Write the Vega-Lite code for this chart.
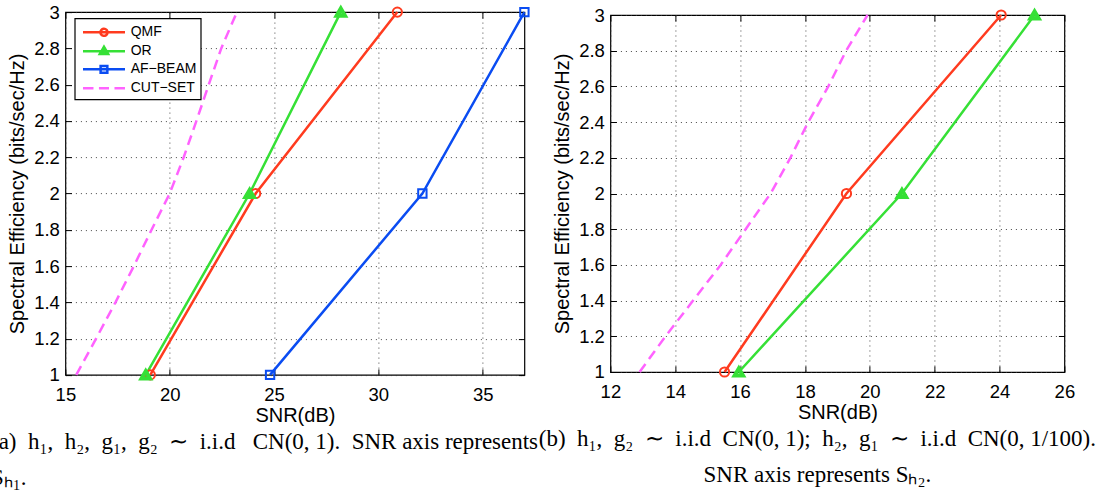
{
  "$schema": "https://vega.github.io/schema/vega-lite/v6.json",
  "background": "white",
  "padding": {"left": -9.6, "top": -1, "right": 0, "bottom": 0},
  "spacing": 86,
  "bounds": "flush",
  "center": true,
  "config": {
    "view": {"stroke": "black", "strokeWidth": 1.2},
    "font": "Liberation Sans",
    "axis": {
      "labelFont": "Liberation Sans", "labelFontSize": 18.5, "labelColor": "black", "labelFlush": false,
      "titleFont": "Liberation Sans", "titleFontSize": 20, "titleFontWeight": "normal", "titleColor": "black",
      "domain": false, "tickColor": "black", "tickSize": -6, "tickWidth": 1,
      "gridColor": "#333333", "gridDash": [1, 4], "gridWidth": 1, "gridOpacity": 0.9
    },
    "legend": {
      "strokeColor": "black", "fillColor": "white", "labelColor": "black", "labelFont": "Liberation Sans",
      "symbolSize": 282, "symbolStrokeWidth": 2.5, "title": null
    },
    "title": {"font": "Liberation Serif", "fontSize": 23, "fontWeight": "normal", "color": "black", "orient": "bottom", "lineHeight": 36}
  },
  "hconcat": [
    {
      "width": 459,
      "height": 362.8,
      "title": {
        "text": ["(a)\u00a0 h₁,\u00a0 h₂,\u00a0 g₁,\u00a0 g₂\u00a0 ∼\u00a0 i.i.d\u00a0\u00a0 CN(0, 1).\u00a0 SNR axis represents", "Sₕ₁."],
        "anchor": "start", "frame": "group", "align": "left", "dx": -74.4, "offset": 6
      },
      "data": {"values": [
        {"series": "QMF", "snr": 19.07, "se": 1},
        {"series": "QMF", "snr": 24.12, "se": 2},
        {"series": "QMF", "snr": 30.91, "se": 3},
        {"series": "OR", "snr": 18.85, "se": 1},
        {"series": "OR", "snr": 23.83, "se": 2},
        {"series": "OR", "snr": 28.2, "se": 3},
        {"series": "AF−BEAM", "snr": 24.81, "se": 1},
        {"series": "AF−BEAM", "snr": 32.11, "se": 2},
        {"series": "AF−BEAM", "snr": 37, "se": 3},
        {"series": "CUT−SET", "snr": 15.52, "se": 1},
        {"series": "CUT−SET", "snr": 16.47, "se": 1.2},
        {"series": "CUT−SET", "snr": 17.4, "se": 1.4},
        {"series": "CUT−SET", "snr": 18.28, "se": 1.6},
        {"series": "CUT−SET", "snr": 19.13, "se": 1.8},
        {"series": "CUT−SET", "snr": 20.0, "se": 2.0},
        {"series": "CUT−SET", "snr": 20.67, "se": 2.2},
        {"series": "CUT−SET", "snr": 21.28, "se": 2.4},
        {"series": "CUT−SET", "snr": 21.87, "se": 2.6},
        {"series": "CUT−SET", "snr": 22.47, "se": 2.8},
        {"series": "CUT−SET", "snr": 23.22, "se": 3.0}
      ]},
      "resolve": {"axis": {"x": "independent", "y": "independent"}},
      "layer": [
        {
          "transform": [{"filter": "datum.series !== 'CUT−SET'"}],
          "mark": {"type": "line", "strokeWidth": 2.5},
          "encoding": {
            "x": {"field": "snr", "type": "quantitative", "scale": {"domain": [15, 37], "nice": false, "zero": false},
                  "axis": {"orient": "bottom", "title": "SNR(dB)", "values": [15, 20, 25, 30, 35], "grid": true, "labelPadding": 17, "titlePadding": 1}},
            "y": {"field": "se", "type": "quantitative", "scale": {"domain": [1, 3], "nice": false, "zero": false},
                  "axis": {"orient": "left", "title": "Spectral Efficiency (bits/sec/Hz)", "values": [1, 1.2, 1.4, 1.6, 1.8, 2, 2.2, 2.4, 2.6, 2.8, 3], "format": "~g", "grid": true, "labelPadding": 12, "titlePadding": 6}},
            "color": {"field": "series", "type": "nominal",
              "scale": {"domain": ["QMF", "OR", "AF−BEAM", "CUT−SET"], "range": ["#ff3b1f", "#36e036", "#0a4cf2", "#ff62ff"]},
              "legend": {
                "orient": "none", "legendX": 9.3, "legendY": 6.3, "padding": 4, "labelFontSize": 14,
                "symbolOffset": 0, "labelOffset": 32, "rowPadding": -0.7,
                "encode": {
                  "legend": {"update": {"strokeWidth": {"value": 1.2}}},
                  "symbols": {"update": {
                  "shape": {"signal": "datum.value === 'QMF' ? 'M-0.68,0H4.32M2.24,0A0.42,0.42 0 1,1 1.4,0A0.42,0.42 0 1,1 2.24,0' : datum.value === 'OR' ? 'M-0.68,0H4.32M1.82,-0.55L2.32,0.33L1.32,0.33ZM1.82,-0.25L2.04,0.15L1.6,0.15Z' : datum.value === 'AF−BEAM' ? 'M-0.68,0H4.32M1.42,-0.4H2.22V0.4H1.42Z' : 'M-0.68,0H0.57M1.22,0H2.42M3.07,0H4.32'"},
                  "fill": {"value": "transparent"},
                  "strokeDash": {"value": [1, 0]},
                  "strokeWidth": {"value": 2.5},
                  "opacity": {"value": 1}
                }}}
              }}
          }
        },
        {
          "transform": [{"filter": "datum.series === 'CUT−SET'"}],
          "mark": {"type": "line", "strokeWidth": 2.5, "strokeDash": [10, 6]},
          "encoding": {
            "x": {"field": "snr", "type": "quantitative", "axis": {"orient": "top", "title": null, "labels": false, "grid": false, "values": [15, 20, 25, 30, 35]}},
            "y": {"field": "se", "type": "quantitative", "axis": {"orient": "right", "title": null, "labels": false, "grid": false, "values": [1, 1.2, 1.4, 1.6, 1.8, 2, 2.2, 2.4, 2.6, 2.8, 3]}},
            "color": {"field": "series", "type": "nominal", "legend": null}
          }
        },
        {
          "transform": [{"filter": "datum.series === 'QMF' || datum.series === 'AF−BEAM'"}],
          "mark": {"type": "point", "filled": false, "strokeWidth": 2, "opacity": 1},
          "encoding": {
            "x": {"field": "snr", "type": "quantitative", "axis": null},
            "y": {"field": "se", "type": "quantitative", "axis": null},
            "color": {"field": "series", "type": "nominal", "legend": null},
            "shape": {"field": "series", "type": "nominal", "legend": null,
              "scale": {"domain": ["QMF", "AF−BEAM"], "range": ["circle", "square"]}},
            "size": {"field": "series", "type": "nominal", "legend": null,
              "scale": {"domain": ["QMF", "AF−BEAM"], "range": [85, 70]}}
          }
        },
        {
          "transform": [{"filter": "datum.series === 'OR'"}],
          "mark": {"type": "point", "filled": false, "shape": "triangle-up", "size": 70, "strokeWidth": 4, "opacity": 1},
          "encoding": {
            "x": {"field": "snr", "type": "quantitative", "axis": null},
            "y": {"field": "se", "type": "quantitative", "axis": null},
            "color": {"field": "series", "type": "nominal", "legend": null}
          }
        }
      ]
    },
    {
      "width": 454,
      "height": 357,
      "title": {
        "text": ["(b)\u00a0 h₁,\u00a0 g₂\u00a0 ∼\u00a0 i.i.d\u00a0 CN(0, 1);\u00a0 h₂,\u00a0 g₁\u00a0 ∼\u00a0 i.i.d\u00a0 CN(0, 1/100).", "SNR axis represents Sₕ₂."],
        "anchor": "middle", "frame": "group", "align": "center", "dx": -20, "offset": 6
      },
      "data": {"values": [
        {"series": "QMF", "snr": 15.52, "se": 1},
        {"series": "QMF", "snr": 19.28, "se": 2},
        {"series": "QMF", "snr": 24.05, "se": 3},
        {"series": "OR", "snr": 15.96, "se": 1},
        {"series": "OR", "snr": 20.99, "se": 2},
        {"series": "OR", "snr": 25.08, "se": 3},
        {"series": "CUT−SET", "snr": 12.9, "se": 1},
        {"series": "CUT−SET", "snr": 13.7, "se": 1.2},
        {"series": "CUT−SET", "snr": 14.55, "se": 1.4},
        {"series": "CUT−SET", "snr": 15.4, "se": 1.6},
        {"series": "CUT−SET", "snr": 16.17, "se": 1.8},
        {"series": "CUT−SET", "snr": 16.94, "se": 2.0},
        {"series": "CUT−SET", "snr": 17.55, "se": 2.2},
        {"series": "CUT−SET", "snr": 18.1, "se": 2.4},
        {"series": "CUT−SET", "snr": 18.72, "se": 2.6},
        {"series": "CUT−SET", "snr": 19.27, "se": 2.8},
        {"series": "CUT−SET", "snr": 19.93, "se": 3.0}
      ]},
      "resolve": {"axis": {"x": "independent", "y": "independent"}},
      "layer": [
        {
          "transform": [{"filter": "datum.series !== 'CUT−SET'"}],
          "mark": {"type": "line", "strokeWidth": 2.5},
          "encoding": {
            "x": {"field": "snr", "type": "quantitative", "scale": {"domain": [12, 26], "nice": false, "zero": false},
                  "axis": {"orient": "bottom", "title": "SNR(dB)", "values": [12, 14, 16, 18, 20, 22, 24, 26], "grid": true, "labelPadding": 17, "titlePadding": 1}},
            "y": {"field": "se", "type": "quantitative", "scale": {"domain": [1, 3], "nice": false, "zero": false},
                  "axis": {"orient": "left", "title": "Spectral Efficiency (bits/sec/Hz)", "values": [1, 1.2, 1.4, 1.6, 1.8, 2, 2.2, 2.4, 2.6, 2.8, 3], "format": "~g", "grid": true, "labelPadding": 12, "titlePadding": 6}},
            "color": {"field": "series", "type": "nominal",
              "scale": {"domain": ["QMF", "OR", "CUT−SET"], "range": ["#ff3b1f", "#36e036", "#ff62ff"]},
              "legend": {
                "orient": "none", "legendX": 12.4, "legendY": 10, "padding": 6, "labelFontSize": 11,
                "symbolOffset": 0, "labelOffset": 50.3, "rowPadding": 4.8,
                "labelExpr": "datum.label + '\u00a0\u00a0\u00a0\u00a0'",
                "encode": {
                  "legend": {"update": {"strokeWidth": {"value": 1.2}}},
                  "symbols": {"update": {
                  "shape": {"signal": "datum.value === 'QMF' ? 'M-0.476,0H6.43M3.396,0A0.42,0.42 0 1,1 2.556,0A0.42,0.42 0 1,1 3.396,0' : datum.value === 'OR' ? 'M-0.476,0H6.43M2.976,-0.55L3.476,0.33L2.476,0.33ZM2.976,-0.25L3.196,0.15L2.756,0.15Z' : 'M-0.476,0H0.714M1.428,0H2.618M3.332,0H4.522M5.236,0H6.43'"},
                  "fill": {"value": "transparent"},
                  "strokeDash": {"value": [1, 0]},
                  "strokeWidth": {"value": 2.5},
                  "opacity": {"value": 1}
                }}}
              }}
          }
        },
        {
          "transform": [{"filter": "datum.series === 'CUT−SET'"}],
          "mark": {"type": "line", "strokeWidth": 2.5, "strokeDash": [10, 6]},
          "encoding": {
            "x": {"field": "snr", "type": "quantitative", "axis": {"orient": "top", "title": null, "labels": false, "grid": false, "values": [12, 14, 16, 18, 20, 22, 24, 26]}},
            "y": {"field": "se", "type": "quantitative", "axis": {"orient": "right", "title": null, "labels": false, "grid": false, "values": [1, 1.2, 1.4, 1.6, 1.8, 2, 2.2, 2.4, 2.6, 2.8, 3]}},
            "color": {"field": "series", "type": "nominal", "legend": null}
          }
        },
        {
          "transform": [{"filter": "datum.series === 'QMF'"}],
          "mark": {"type": "point", "filled": false, "shape": "circle", "size": 85, "strokeWidth": 2, "opacity": 1},
          "encoding": {
            "x": {"field": "snr", "type": "quantitative", "axis": null},
            "y": {"field": "se", "type": "quantitative", "axis": null},
            "color": {"field": "series", "type": "nominal", "legend": null}
          }
        },
        {
          "transform": [{"filter": "datum.series === 'OR'"}],
          "mark": {"type": "point", "filled": false, "shape": "triangle-up", "size": 70, "strokeWidth": 4, "opacity": 1},
          "encoding": {
            "x": {"field": "snr", "type": "quantitative", "axis": null},
            "y": {"field": "se", "type": "quantitative", "axis": null},
            "color": {"field": "series", "type": "nominal", "legend": null}
          }
        }
      ]
    }
  ]
}
